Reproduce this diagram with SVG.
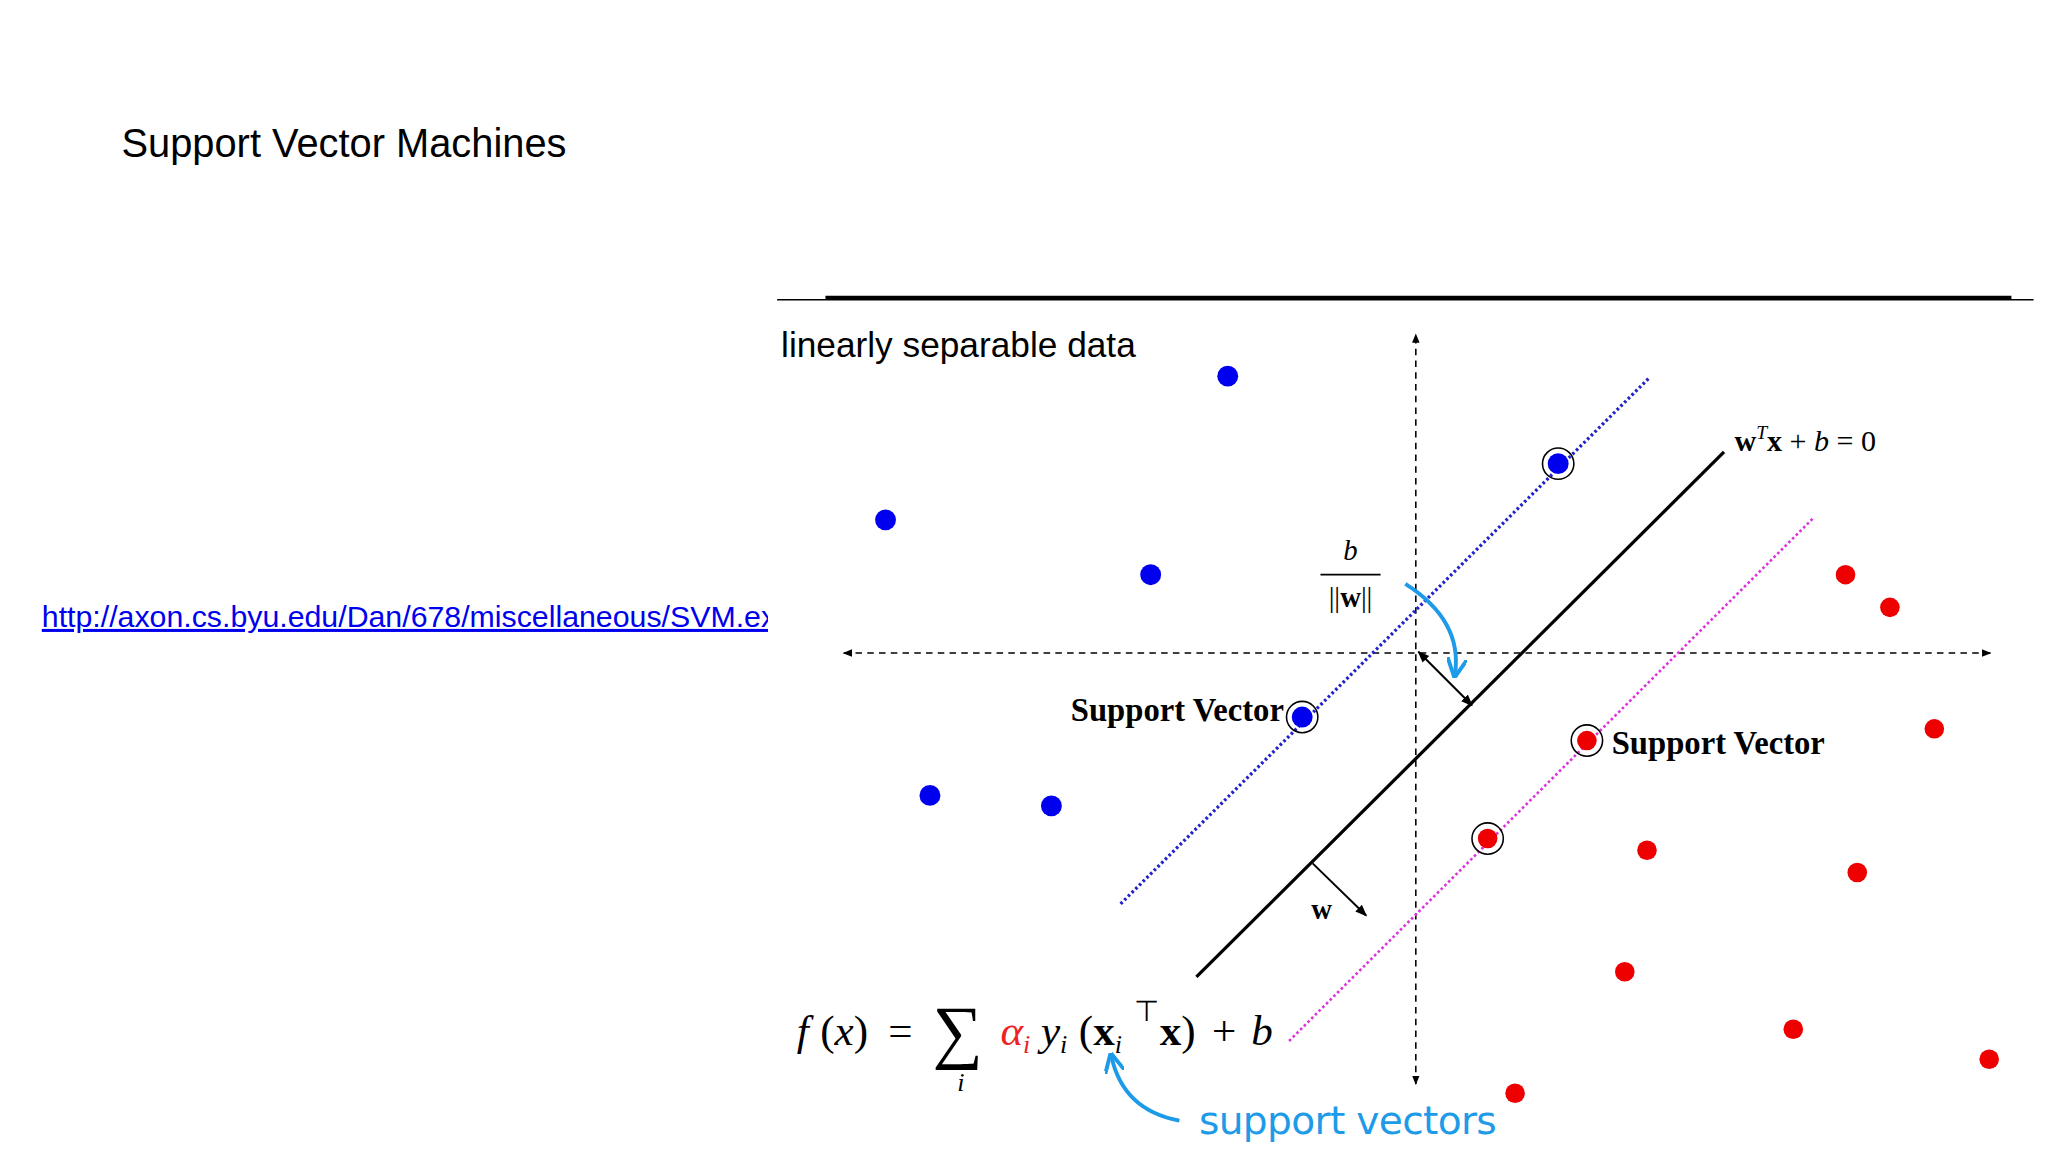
<svg xmlns="http://www.w3.org/2000/svg" width="2048" height="1152" viewBox="0 0 2048 1152">
<style>
.t{font-family:"Liberation Sans",Arial,sans-serif}
.s{font-family:"Liberation Serif","Times New Roman",serif}
.b{fill:#0000ee}.r{fill:#ee0000}
.ring{fill:none;stroke:#000;stroke-width:1.2}
</style>
<defs>
<marker id="ah" viewBox="0 0 10 10" refX="9" refY="5" markerWidth="6" markerHeight="6" orient="auto-start-reverse"><path d="M0,1L10,5L0,9z" fill="#000"/></marker>
<marker id="bh" viewBox="0 0 10 10" refX="8" refY="5" markerWidth="5" markerHeight="5" orient="auto"><path d="M0,0L10,5L0,10" fill="none" stroke="#1e9be8" stroke-width="2"/></marker>
</defs>
<rect width="2048" height="1152" fill="#fff"/>
<g transform="scale(1.3061)">
<text id="title" class="t" x="93" y="120" font-size="30.5">Support Vector Machines</text>
<svg x="0" y="440" width="588" height="60"><text id="link" class="t" x="32" y="40" font-size="23.2" fill="#0000ee" text-decoration="underline">http://axon.cs.byu.edu/Dan/678/miscellaneous/SVM.example.pdf</text></svg>
<line x1="595" y1="229.5" x2="1557" y2="229.5" stroke="#000" stroke-width="1"/>
<line x1="632" y1="228" x2="1540" y2="228" stroke="#000" stroke-width="3"/>
<text class="t" x="598" y="273" font-size="27">linearly separable data</text>
<g id="connectors">
<line x1="1084" y1="830" x2="1084" y2="256" stroke="#000" stroke-width="1.2" stroke-dasharray="5,4" marker-start="url(#ah)" marker-end="url(#ah)"/>
<line x1="646" y1="500" x2="1524" y2="500" stroke="#000" stroke-width="1.2" stroke-dasharray="5,4" marker-start="url(#ah)" marker-end="url(#ah)"/>
<line x1="858" y1="692" x2="1263" y2="289" stroke="#2222cc" stroke-width="2.5" stroke-dasharray="2,2"/>
<line x1="916" y1="748" x2="1320" y2="346" stroke="#000" stroke-width="2.5"/>
<line x1="987" y1="797" x2="1389" y2="396" stroke="#dd33dd" stroke-width="2" stroke-dasharray="2,2"/>
<line x1="1086" y1="499" x2="1127" y2="540" stroke="#000" stroke-width="1.5" marker-start="url(#ah)" marker-end="url(#ah)"/>
<line x1="1005" y1="661" x2="1046" y2="701" stroke="#000" stroke-width="1.5" marker-end="url(#ah)"/>
<path d="M1076,447 Q1120,475 1114,516" fill="none" stroke="#1e9be8" stroke-width="3" marker-end="url(#bh)"/>
<path d="M903,858 Q860,850 851,809" fill="none" stroke="#1e9be8" stroke-width="3" marker-end="url(#bh)"/>
</g>
<g id="blue-points" class="b">
<circle cx="940" cy="288" r="8"/><circle cx="678" cy="398" r="8"/><circle cx="881" cy="440" r="8"/>
<circle cx="712" cy="609" r="8"/><circle cx="805" cy="617" r="8"/>
<circle cx="1193" cy="355" r="8"/><circle cx="997" cy="549" r="8"/>
</g>
<g id="red-points" class="r">
<circle cx="1413" cy="440" r="7.5"/><circle cx="1447" cy="465" r="7.5"/><circle cx="1481" cy="558" r="7.5"/>
<circle cx="1261" cy="651" r="7.5"/><circle cx="1422" cy="668" r="7.5"/><circle cx="1244" cy="744" r="7.5"/>
<circle cx="1373" cy="788" r="7.5"/><circle cx="1523" cy="811" r="7.5"/><circle cx="1160" cy="837" r="7.5"/>
<circle cx="1215" cy="567" r="7.5"/><circle cx="1139" cy="642" r="7.5"/>
</g>
<g id="rings">
<circle class="ring" cx="1193" cy="355" r="12"/><circle class="ring" cx="997" cy="549" r="12"/>
<circle class="ring" cx="1215" cy="567" r="12"/><circle class="ring" cx="1139" cy="642" r="12"/>
</g>
<g id="labels" class="s">
<text x="1328" y="345" font-size="23"><tspan font-weight="bold">w</tspan><tspan font-style="italic" font-size="15" dy="-9">T</tspan><tspan font-weight="bold" dy="9">x</tspan> + <tspan font-style="italic">b</tspan> = 0</text>
<text x="983" y="552" font-size="25" font-weight="bold" text-anchor="end">Support Vector</text>
<text x="1234" y="577" font-size="25" font-weight="bold">Support Vector</text>
<text x="1034" y="429" font-size="22" font-style="italic" text-anchor="middle">b</text>
<line x1="1011" y1="440" x2="1057" y2="440" stroke="#000" stroke-width="1.3"/>
<text x="1034" y="465" font-size="22" text-anchor="middle">||<tspan font-weight="bold">w</tspan>||</text>
<text x="1004" y="704" font-size="22" font-weight="bold">w</text>
<g font-size="33">
<text x="610" y="800" font-style="italic">f</text>
<text x="628" y="800">(<tspan font-style="italic">x</tspan>)</text>
<text x="680" y="800">=</text>
<text x="714" y="808" font-size="54">∑</text>
<text x="733" y="835" font-size="20" font-style="italic">i</text>
<text x="766" y="800" font-style="italic" fill="#ee2222">α<tspan font-size="20" dy="6">i</tspan></text>
<text x="797" y="800" font-style="italic">y<tspan font-size="20" dy="6">i</tspan></text>
<text x="826" y="800">(<tspan font-weight="bold">x</tspan><tspan font-style="italic" font-size="20" dy="6">i</tspan></text>
<text x="868" y="782" font-size="22">⊤</text>
<text x="888" y="800"><tspan font-weight="bold">x</tspan>)</text>
<text x="928" y="800">+</text>
<text x="958" y="800" font-style="italic">b</text>
</g>
</g>
<text x="918" y="868" font-size="30" fill="#1e9be8" font-family="DejaVu Sans" textLength="228">support vectors</text>
</g>
</svg>
